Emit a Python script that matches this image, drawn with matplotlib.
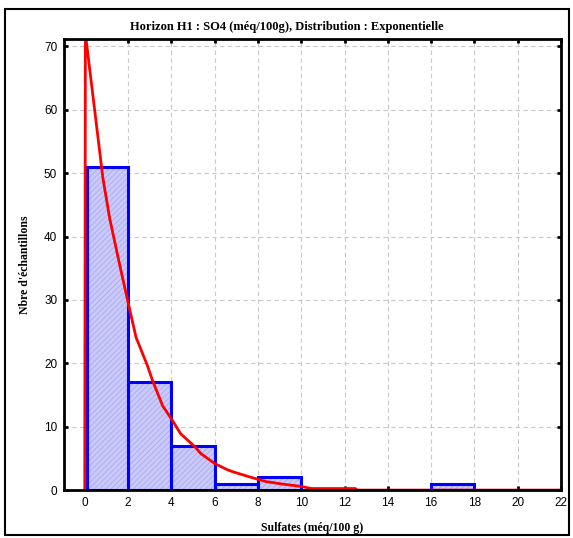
import matplotlib
matplotlib.use("Agg")
import matplotlib.pyplot as plt
from matplotlib.patches import Rectangle

# histogramme : bornes des classes et effectifs
binEdges = [0.1, 2, 4, 6, 8, 10, 12, 14, 16, 18, 20, 22]
counts = [51, 17, 7, 1, 2, 0, 0, 0, 1, 0, 0]

# courbe exponentielle ajustée
curveX = [0.0, 0.03, 0.84, 1.15, 1.61, 1.99, 2.37, 2.9, 3.13, 3.6, 4.05,
          4.43, 5.1, 5.37, 6.0, 6.6, 6.84, 7.6, 8.37, 9.14, 10.06, 10.45, 12.5, 12.6, 22.0]
curveY = [0.0, 72.0, 49.2, 42.9, 35.6, 29.8, 24.1, 19.6, 17.3, 13.3, 11.0,
          8.9, 6.8, 5.75, 4.2, 3.2, 2.9, 2.1, 1.35, 0.95, 0.55, 0.25, 0.25, 0.0, 0.0]

xTicks = list(range(0, 23, 2))
yTicks = list(range(0, 71, 10))

titre = "Horizon H1 : SO4 (méq/100g), Distribution : Exponentielle"
xLabel = "Sulfates (méq/100 g)"
yLabel = "Nbre d'échantillons"

plt.rcParams['hatch.linewidth'] = 0.6

fig = plt.figure(figsize=(5.73, 5.38), dpi=100)
ax = fig.add_axes([0.112, 0.089, 0.867, 0.839])

# cadre extérieur
fig.patches.append(Rectangle((0.009, 0.006), 0.984, 0.977, transform=fig.transFigure,
                             fill=False, edgecolor='black', linewidth=1.5))

widths = [binEdges[i + 1] - binEdges[i] for i in range(len(counts))]
# remplissage hachuré clair, puis contour bleu
ax.bar(binEdges[:-1], counts, width=widths, align='edge',
       color='#cacafb', edgecolor='#a8a8f0', linewidth=0, hatch='//////', zorder=2)
ax.bar(binEdges[:-1], counts, width=widths, align='edge',
       fill=False, edgecolor='#0000ff', linewidth=2.2, zorder=2.1)

ax.plot(curveX, curveY, color='#ff0000', linewidth=2.0, zorder=3, clip_on=True)

ax.set_xlim(-0.95, 22)
ax.set_ylim(0, 71.2)
ax.set_xticks(xTicks)
ax.set_yticks(yTicks)
ax.grid(True, color='#c8c8c8', linestyle=(0, (4, 3)), linewidth=0.8, zorder=0)
ax.set_axisbelow(True)

ax.tick_params(direction='in', length=3, width=2, top=True, right=True,
               labelsize=8.5, pad=5)
for lab in ax.get_xticklabels() + ax.get_yticklabels():
    lab.set_family('Liberation Sans')
for sp in ax.spines.values():
    sp.set_linewidth(2)
    sp.set_zorder(4)

font1 = {'family': 'Liberation Serif', 'weight': 'bold', 'size': 9}
fig.text(0.5, 0.949, titre, ha='center', va='center', fontdict=font1)
ax.set_xlabel(xLabel, fontdict={'family': 'Liberation Serif', 'weight': 'bold', 'size': 8.5}, labelpad=9)
ax.set_ylabel(yLabel, fontdict={'family': 'Liberation Serif', 'weight': 'bold', 'size': 8.5}, labelpad=9)

fig.savefig("out.png", dpi=100)
